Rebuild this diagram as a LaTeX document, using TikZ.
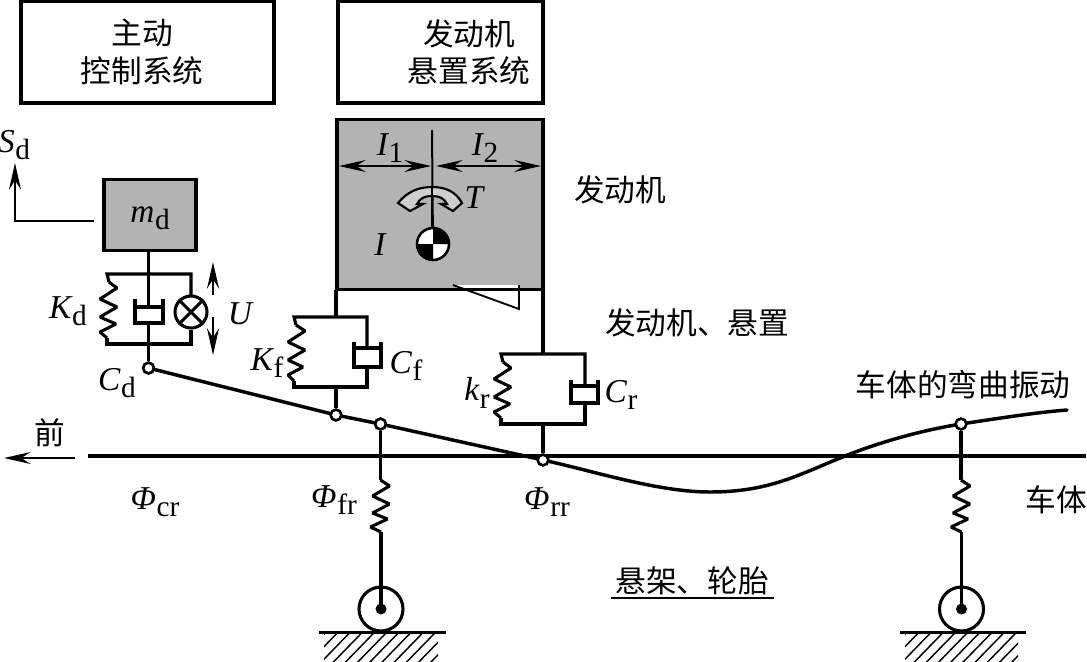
\documentclass[tikz,border=0pt]{standalone}
\usepackage{fontspec}
\setmainfont{Liberation Serif}
\newfontfamily\cjk{Noto Sans CJK SC}
\usetikzlibrary{arrows.meta}
\definecolor{bodygray}{HTML}{B3B3B3}
\tikzset{
  wire/.style={line width=2.3pt,line join=miter},
  thinwire/.style={line width=1.5pt},
  dimarrow/.style={line width=1.1pt,{Stealth[length=20pt,width=9pt,inset=7pt]}-{Stealth[length=20pt,width=9pt,inset=7pt]}},
  onearrow/.style={line width=1.5pt,-{Stealth[length=20pt,width=9pt,inset=7pt]}},
  titlebox/.style={draw,line width=2.3pt,inner sep=0pt},
  pin/.style={circle,draw,fill=white,line width=1.9pt,minimum size=8pt,inner sep=0pt},
  sym/.style={font=\fontsize{25}{27}\selectfont\itshape,inner sep=0pt},
  zh/.style={font=\cjk\fontsize{23}{28}\selectfont,align=center,inner sep=0pt},
  hatchline/.style={line width=1.1pt},
}
% italic symbol with an upright subscript
\newcommand{\lab}[2]{#1\kern0.5pt\raisebox{-5.5pt}{\upshape\fontsize{22}{23}\selectfont #2}}
\begin{document}
\begin{tikzpicture}[x=0.75pt,y=-0.75pt]
\useasboundingbox (0,0) rectangle (1087,661);

% header boxes
\node[titlebox,minimum width=253*0.75pt,minimum height=102*0.75pt] (active) at (147.5,52) {};
\node[titlebox,minimum width=205*0.75pt,minimum height=102*0.75pt] (mount) at (440.5,52) {};
\node[zh] at (142,52) {主动\\控制系统};
\node[zh] at (469,52) {发动机\\悬置系统};

% engine block
\node[draw,fill=bodygray,line width=2.6pt,minimum width=206*0.75pt,minimum height=170*0.75pt,inner sep=0pt] (engine) at (440,204.5) {};

% triangle under the engine
\fill[white] (453,285) -- (519,285) -- (519,309) -- cycle;
\draw[line width=1.4pt] (453,285) -- (519,309) -- (519,285);
\draw[wire] (337,289.5) -- (543,289.5);

% centre line and lever arms
\coordinate (ctop) at (432,130);
\coordinate (cog) at (433,244);
\draw[thinwire] (ctop) -- (cog);
\coordinate (armL) at (339,166);
\coordinate (armM) at (431,166);
\coordinate (armN) at (436,166);
\coordinate (armR) at (541,166);
\draw[dimarrow] (armL) -- (armM);
\draw[dimarrow] (armN) -- (armR);

% hollow torque arrows
\draw[line width=1.6pt,fill=bodygray!65!white,line join=miter]
  (432,187) .. controls (446,187) and (456,192) .. (462,203)
  -- (453,211) -- (441,204) -- (447,204)
  .. controls (444,198) and (439,196) .. (432,196)
  .. controls (425,196) and (420,198) .. (417,204)
  -- (423,204) -- (410,211) -- (398,203)
  .. controls (407,192) and (418,187) .. (432,187) -- cycle;
\draw[thinwire] (432,187) -- (432,228);

% centre of gravity symbol
\fill[white] (cog) circle (16);
\fill (cog) -- ++(-16,0) arc (180:90:16) -- cycle;
\fill (cog) -- ++(16,0) arc (0:-90:16) -- cycle;
\draw[line width=1.9pt] (cog) circle (16);

\node[sym] at (390,148) {\lab{I}{1}};
\node[sym] at (485,148) {\lab{I}{2}};
\node[sym] at (474,198) {T};
\node[sym] at (380,245) {I};

% front mount
\coordinate (fTop) at (336,317);
\coordinate (fBot) at (336,387);
\node[pin] (pinF) at (336,415) {};
\draw[wire] (336,290) -- (fTop);
\draw[wire] (fBot) -- (pinF);
\draw[wire] (296,325) -- (294,317) -- (367,317) -- (367,348);
\draw[wire] (354,348) -- (381,348);
\draw[wire] (354,342) -- (354,367) -- (381,367) -- (381,342);
\draw[wire] (367,367) -- (367,387) -- (294,387) -- (294,381);
\draw[wire,line join=bevel] (296,325) -- (305,331) -- (288,342) -- (305,350) -- (288,360) -- (303,367) -- (288,375) -- (294,381);
\node[sym] at (267,363) {\lab{K}{f}};
\node[sym] at (406,366) {\lab{C}{f}};

% rear mount
\coordinate (rTop) at (543,354);
\coordinate (rBot) at (543,424);
\node[pin] (pinR) at (543,460) {};
\draw[wire] (543,290) -- (rTop);
\draw[wire] (rBot) -- (pinR);
\draw[wire] (503,362) -- (501,354) -- (585,354) -- (585,386);
\draw[wire] (571,386) -- (598,386);
\draw[wire] (571,380) -- (571,403) -- (598,403) -- (598,380);
\draw[wire] (585,403) -- (585,424) -- (501,424) -- (501,418);
\draw[wire,line join=bevel] (503,362) -- (511,368) -- (494,379) -- (511,387) -- (494,397) -- (510,404) -- (494,412) -- (501,418);
\node[sym] at (477,393) {\lab{k}{r}};
\node[sym] at (621,395) {\lab{C}{r}};

% active damper mass
\node[draw,fill=bodygray,line width=2.6pt,minimum width=92*0.75pt,minimum height=71*0.75pt,inner sep=0pt] (mass) at (150,215) {};
\node[sym] at (150,218) {\lab{m}{d}};
\node[pin] (pinD) at (148.5,368) {};
\draw[wire] (mass.south -| pinD) -- (148.5,307);
\draw[wire] (148.5,323) -- (pinD);
\draw[wire] (135,307) -- (163,307);
\draw[wire] (135,299) -- (135,323) -- (163,323) -- (163,299);
\draw[wire] (109,282) -- (107,274) -- (191,274) -- (191,296);
\node[circle,draw,line width=2.3pt,minimum size=32*0.75pt,inner sep=0pt] (valve) at (191,312) {};
\draw[wire] (valve.north west) -- (valve.south east);
\draw[wire] (valve.north east) -- (valve.south west);
\draw[wire] (valve.south) -- (191,344) -- (107,344) -- (107,338);
\draw[wire,line join=bevel] (109,282) -- (117,288) -- (100,299) -- (117,307) -- (100,317) -- (116,324) -- (100,332) -- (107,338);
\coordinate (uA) at (213,295);
\coordinate (uB) at (213,262);
\coordinate (uC) at (213,317);
\coordinate (uD) at (213,355);
\draw[onearrow] (uA) -- (uB);
\draw[onearrow] (uC) -- (uD);
\node[sym] at (240,314) {U};
\node[sym] at (68,311) {\lab{K}{d}};
\node[sym] at (117,383) {\lab{C}{d}};

% displacement output of the mass
\coordinate (sA) at (94,221);
\coordinate (sB) at (15,221);
\coordinate (sC) at (15,163);
\draw[onearrow] (sA) -- (sB) -- (sC);
\node[sym] at (14,145) {\lab{S}{d}};

% vehicle body datum line and bending shape
\coordinate (datumL) at (88,456);
\coordinate (datumR) at (1086,456);
\draw[wire] (datumL) -- (datumR);
\node[pin] (pinA) at (380.5,424) {};
\node[pin] (pinB) at (961,424) {};
\draw[line width=2.6pt,line cap=round] (pinD) -- (pinF) -- (pinA) -- (pinR)
  .. controls (600,473) and (660,492) .. (710,492)
  .. controls (770,492) and (800,474) .. (845,456)
  .. controls (880,442) and (920,431) .. (pinB)
  .. controls (1000,418) and (1040,412) .. (1067,410);
\node[pin] at (148.5,368) {};
\node[pin] at (336,415) {};
\node[pin] at (380.5,424) {};
\node[pin] at (543,460) {};
\node[pin] at (961,424) {};

% front suspension and wheel
\coordinate (sp1a) at (380.5,480);
\coordinate (sp1b) at (381,532);
\node[circle,draw,line width=2.3pt,minimum size=44*0.75pt,inner sep=0pt] (wheelA) at (381,609) {};
\fill (wheelA.center) circle (5.5);
\draw[wire] (pinA) -- (sp1a);
\draw[wire,line join=bevel] (sp1a) -- ++(9,6) -- ++(-17,10) -- ++(17,8) -- ++(-17,9) -- ++(15,6) -- ++(-17,8) -- (sp1b);
\draw[wire] (sp1b) -- (wheelA.center);
\coordinate (gA1) at (319,632.5);
\coordinate (gA2) at (446,632.5);
\draw[wire] (gA1) -- (gA2);
\begin{scope}
\clip (324,634) rectangle (438,661);
\foreach \k in {0,...,12} \draw[hatchline] (290+\k*12.2,669) -- (326+\k*12.2,632);
\end{scope}

% rear suspension and wheel
\coordinate (sp2a) at (961,480);
\coordinate (sp2b) at (961.5,532);
\node[circle,draw,line width=2.3pt,minimum size=44*0.75pt,inner sep=0pt] (wheelB) at (961.5,609) {};
\fill (wheelB.center) circle (5.5);
\draw[wire] (pinB) -- (sp2a);
\draw[wire,line join=bevel] (sp2a) -- ++(9,6) -- ++(-17,10) -- ++(17,8) -- ++(-17,9) -- ++(15,6) -- ++(-17,8) -- (sp2b);
\draw[wire] (sp2b) -- (wheelB.center);
\coordinate (gB1) at (900,632.5);
\coordinate (gB2) at (1026,632.5);
\draw[wire] (gB1) -- (gB2);
\begin{scope}
\clip (905,634) rectangle (1018,661);
\foreach \k in {0,...,12} \draw[hatchline] (871+\k*12.2,669) -- (907+\k*12.2,632);
\end{scope}

% forward direction arrow
\coordinate (fwdA) at (75,458);
\coordinate (fwdB) at (4,458);
\draw[onearrow] (fwdA) -- (fwdB);

% chinese captions
\node[zh] at (50,433) {前};
\node[zh] at (620,190) {发动机};
\node[zh] at (697,323) {发动机、悬置};
\node[zh] at (963,385) {车体的弯曲振动};
\node[zh] at (1056,500) {车体};
\node[zh] (susp) at (692,581) {悬架、轮胎};
\coordinate (ulA) at (611,598);
\coordinate (ulB) at (774,598);
\draw[thinwire] (ulA) -- (ulB);

% body angle symbols
\node[sym] at (155,502) {\lab{Φ}{cr}};
\node[sym] at (334,500) {\lab{Φ}{fr}};
\node[sym] at (547,502) {\lab{Φ}{rr}};
\end{tikzpicture}
\end{document}
